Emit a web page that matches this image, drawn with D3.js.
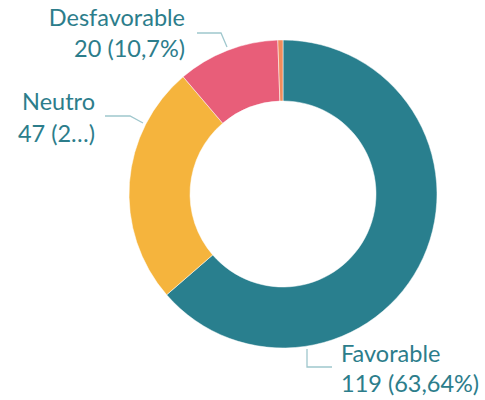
<!DOCTYPE html>
<html><head><meta charset="utf-8">
<script src="https://cdn.jsdelivr.net/npm/d3@7"></script>
<style>html,body{margin:0;padding:0;background:#fff;}svg{display:block;}</style>
</head><body>
<svg id="chart" width="485" height="400"></svg>
<script>
const categories = ["Favorable", "Neutro", "Desfavorable", "Otro"];
const values = [119, 47, 20, 1];
const labelText = ["119 (63,64%)", "47 (2…)", "20 (10,7%)", null];
const colors = ["#297F8E", "#F5B43D", "#E85E79", "#F08C5C"];

const svg = d3.select("#chart");
const cx = 283, cy = 194, R = 154, r = 93;
const textColor = "#2C7D8B", lineColor = "#9FC7CD";
const fontFamily = "Lato, 'Open Sans', sans-serif", fontSize = 23.5;

const data = categories.map((c, i) => ({name: c, value: values[i], label: labelText[i], color: colors[i]}));
const pie = d3.pie().value(d => d.value).sort(null).startAngle(0).endAngle(2 * Math.PI);
const arc = d3.arc().innerRadius(r).outerRadius(R);

const g = svg.append("g").attr("transform", `translate(${cx},${cy})`);
g.selectAll("path.slice").data(pie(data)).join("path")
  .attr("class", "slice")
  .attr("d", arc)
  .attr("fill", d => d.data.color)
  .attr("stroke", "#fff").attr("stroke-width", 0.5);

// label layout (annotation positions)
const labelLayout = {
  "Favorable":   {x: 341, y1: 362, y2: 392, anchor: "start", line: [[307, 349], [307, 367], [332, 367]]},
  "Neutro":      {x: 95,  y1: 110, y2: 142, anchor: "end",   line: [[105, 116], [130, 116], [143, 123]]},
  "Desfavorable":{x: 185, y1: 26,  y2: 57,  anchor: "end",   line: [[197, 33], [221, 33], [227, 47]]}
};

data.forEach(d => {
  const L = labelLayout[d.name];
  if (!L || !d.label) return;
  svg.append("path")
    .attr("d", d3.line()(L.line))
    .attr("fill", "none").attr("stroke", lineColor).attr("stroke-width", 1.3);
  const t = svg.append("text")
    .attr("font-family", fontFamily).attr("font-size", fontSize)
    .attr("fill", textColor).attr("text-anchor", L.anchor);
  t.append("tspan").attr("x", L.x).attr("y", L.y1).text(d.name);
  t.append("tspan").attr("x", L.x).attr("y", L.y2).text(d.label);
});
</script>
</body></html>
